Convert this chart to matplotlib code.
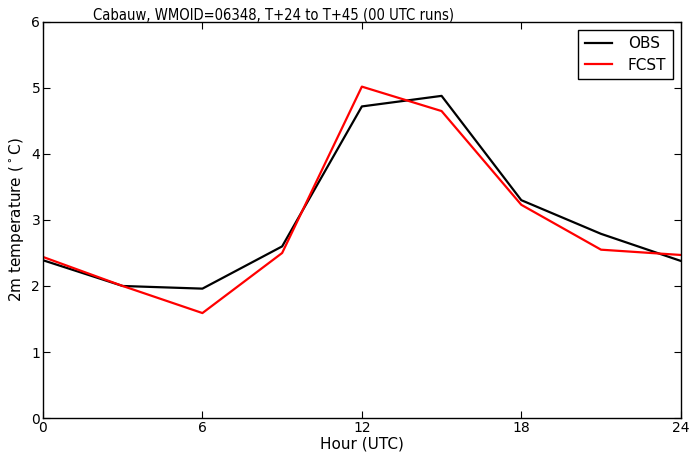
import matplotlib
matplotlib.use('Agg')
import matplotlib.pyplot as plt

hours = [0, 3, 6, 9, 12, 15, 18, 21, 24]
obs = [2.39, 2.0, 1.96, 2.6, 4.72, 4.88, 3.3, 2.79, 2.38]
fcst = [2.44, 2.0, 1.59, 2.5, 5.02, 4.65, 3.23, 2.55, 2.47]

fig = plt.figure(figsize=(6.89, 4.57), dpi=100)
ax = fig.add_axes([0.0624, 0.0853, 0.9256, 0.8667])

ax.plot(hours, obs, color='black', lw=1.6, label='OBS')
ax.plot(hours, fcst, color='red', lw=1.6, label='FCST')

ax.set_xlim(0, 24)
ax.set_ylim(0, 6)
ax.set_xticks([0, 6, 12, 18, 24])
ax.set_yticks(range(7))
ax.tick_params(direction='in', top=True, right=True, labelsize=10, length=5, pad=2)
for s in ax.spines.values():
    s.set_linewidth(1.0)

# title sits left of centre in the original
ax.text(0.362, 1.006, 'Cabauw, WMOID=06348, T+24 to T+45 (00 UTC runs)',
        transform=ax.transAxes, ha='center', va='baseline', fontsize=10.6,
        fontstretch='condensed')
ax.set_xlabel('Hour (UTC)', fontsize=11, labelpad=1)
ax.set_ylabel('2m temperature ($^\\circ$C)', fontsize=11, labelpad=4)

leg = ax.legend(loc='upper right', fontsize=11, fancybox=False, framealpha=1,
                handlelength=1.8, borderpad=0.45, handletextpad=1.0, labelspacing=0.4)
leg.get_frame().set_edgecolor('black')
leg.get_frame().set_linewidth(1.0)

fig.savefig('out.png', dpi=100)
